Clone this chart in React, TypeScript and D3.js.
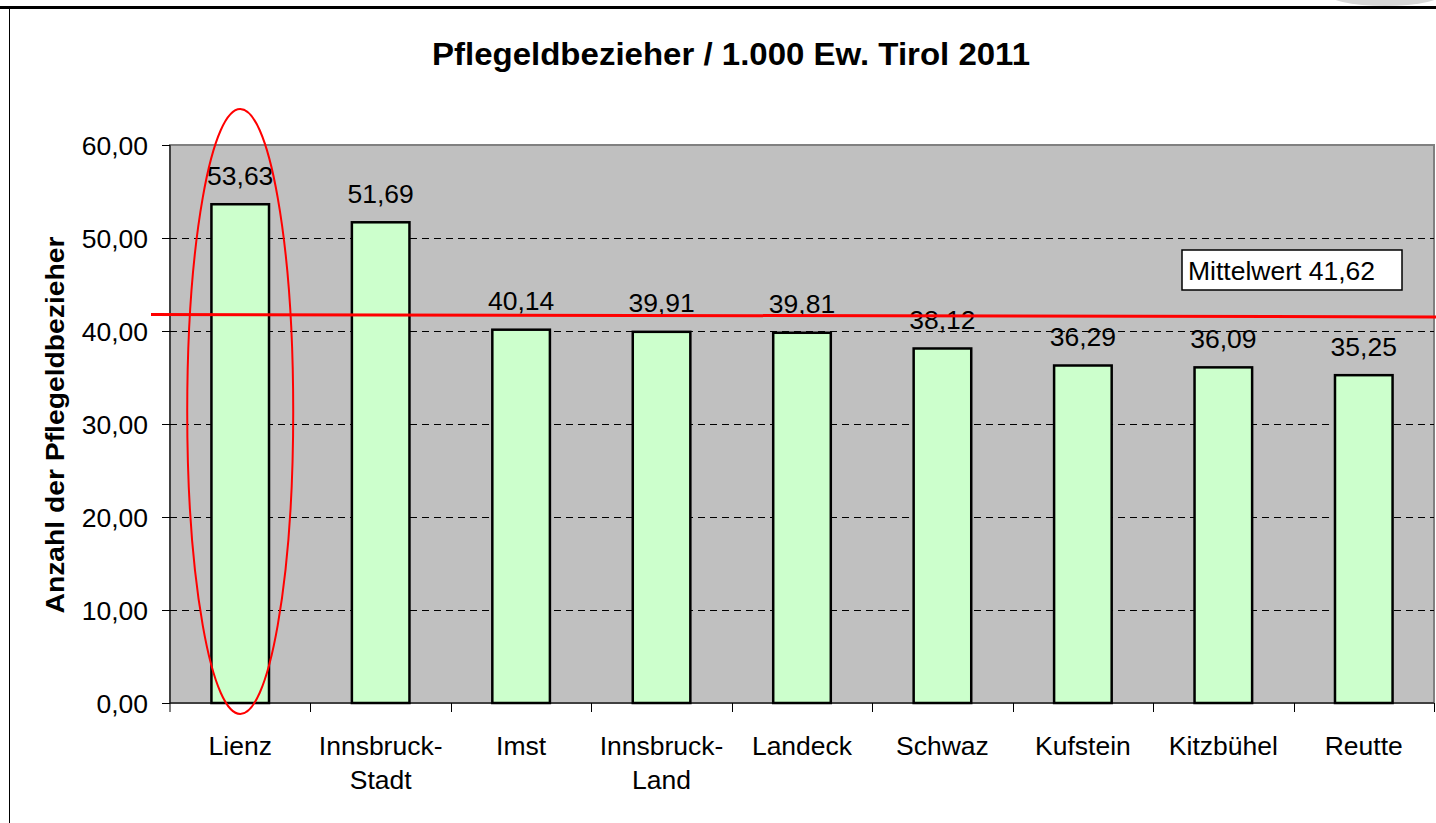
import React from "react";
import * as d3 from "d3";

const categories = ["Lienz", "Innsbruck-\nStadt", "Imst", "Innsbruck-\nLand", "Landeck", "Schwaz", "Kufstein", "Kitzbühel", "Reutte"];
const values = [53.63, 51.69, 40.14, 39.91, 39.81, 38.12, 36.29, 36.09, 35.25];
const yTicks = [0, 10, 20, 30, 40, 50, 60];
const meanValue = 41.62;
const title = "Pflegeldbezieher / 1.000 Ew. Tirol 2011";
const yTitle = "Anzahl der Pflegeldbezieher";
const meanLabel = "Mittelwert 41,62";

const W = 1436, H = 823;
const plot = { left: 170, right: 1434, top: 145, bottom: 703 };
const font = "'Liberation Sans', Arial, sans-serif";
const fmt = (v: number) => v.toFixed(2).replace(".", ",");
const FS = 26.5;

export default function App() {
  const x = d3.scaleBand<string>().domain(categories).range([plot.left, plot.right]).paddingInner(0).paddingOuter(0);
  const y = d3.scaleLinear().domain([0, 60]).range([plot.bottom, plot.top]);
  const bw = x.bandwidth();
  const barW = bw * 0.41;
  const meanY = y(meanValue);
  const firstCx = (x(categories[0]) as number) + bw / 2;
  return (
    <svg width={W} height={H} style={{ position: "absolute", left: 0, top: 0, fontFamily: font }}>
      <rect x={0} y={0} width={W} height={H} fill="#fff" />
      <ellipse cx={1385} cy={-8} rx={60} ry={14} fill="#d6d6d6" />
      <line x1={0} x2={W} y1={7.5} y2={7.5} stroke="#000" strokeWidth={3} />
      <line x1={9.5} x2={9.5} y1={7} y2={H} stroke="#000" strokeWidth={1} />
      <text x={432} y={65} fontSize={32} fontWeight="bold" textLength={598} lengthAdjust="spacingAndGlyphs">{title}</text>
      <rect x={plot.left} y={plot.top} width={plot.right - plot.left} height={plot.bottom - plot.top} fill="#c0c0c0" stroke="#808080" strokeWidth={2} />
      {yTicks.filter(t => t > 0 && t < 60).map(t => (
        <line key={t} x1={plot.left} x2={plot.right} y1={Math.round(y(t)) + 0.5} y2={Math.round(y(t)) + 0.5} stroke="#000" strokeWidth={1} strokeDasharray="7,5" shapeRendering="crispEdges" />
      ))}
      {yTicks.map(t => (
        <g key={"yt" + t}>
          <line x1={162} x2={plot.left} y1={Math.round(y(t)) + 0.5} y2={Math.round(y(t)) + 0.5} stroke="#000" shapeRendering="crispEdges" />
          <text x={148} y={y(t)} dy="0.36em" textAnchor="end" fontSize={FS}>{fmt(t)}</text>
        </g>
      ))}
      <line x1={plot.left} x2={plot.left} y1={plot.top} y2={plot.bottom + 9} stroke="#000" />
      <line x1={plot.left} x2={plot.right} y1={plot.bottom} y2={plot.bottom} stroke="#000" />
      {categories.map((c, i) => (
        <line key={"xt" + i} x1={Math.round((x(c) as number) + bw) + 0.5} x2={Math.round((x(c) as number) + bw) + 0.5} y1={plot.bottom} y2={plot.bottom + 9} stroke="#000" shapeRendering="crispEdges" />
      ))}
      {categories.map((c, i) => {
        const cx = (x(c) as number) + bw / 2;
        return (
          <g key={"b" + i}>
            <rect x={cx - barW / 2} y={y(values[i])} width={barW} height={plot.bottom - y(values[i])} fill="#ccffcc" stroke="#000" strokeWidth={2.5} />
            <text x={cx} y={y(values[i]) - 29} dy="0.36em" textAnchor="middle" fontSize={FS}>{fmt(values[i])}</text>
            {c.split("\n").map((line, k) => (
              <text key={k} x={cx} y={745 + k * 34} dy="0.36em" textAnchor="middle" fontSize={FS}>{line}</text>
            ))}
          </g>
        );
      })}
      <line x1={151} x2={W} y1={meanY - 1.5} y2={meanY + 1} stroke="#ff0000" strokeWidth={3} />
      <rect x={1182} y={250} width={220} height={40} fill="#fff" stroke="#000" strokeWidth={1.5} />
      <text x={1188} y={270} dy="0.36em" fontSize={FS}>{meanLabel}</text>
      <ellipse cx={firstCx} cy={411.5} rx={53} ry={302.5} fill="none" stroke="#ff0000" strokeWidth={2} />
      <text transform={`translate(55,425) rotate(-90)`} textAnchor="middle" dy="0.36em" fontSize={26} fontWeight="bold" textLength={377} lengthAdjust="spacingAndGlyphs">{yTitle}</text>
    </svg>
  );
}
